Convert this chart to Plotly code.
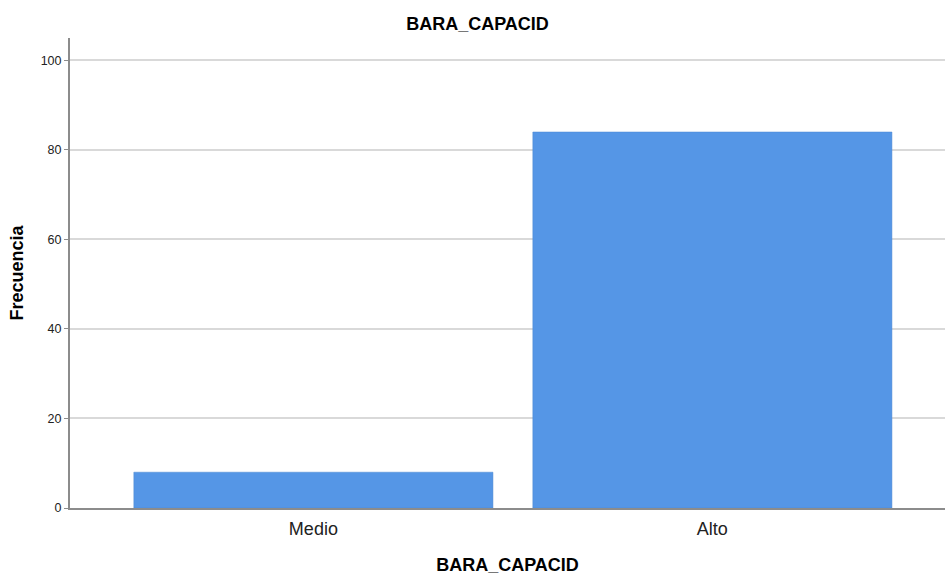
import plotly.graph_objects as go

categories = ["Medio", "Alto"]
frecuencia = [8, 84]
y_ticks = [0, 20, 40, 60, 80, 100]

fig = go.Figure(go.Bar(
    x=categories, y=frecuencia,
    marker=dict(color="#5596e6", line=dict(color="#4a86d0", width=0.5)),
    hoverinfo="skip",
))

fig.update_layout(
    width=945, height=577,
    margin=dict(l=70, r=0, t=38, b=69),
    paper_bgcolor="white", plot_bgcolor="white",
    font=dict(family="Liberation Sans, Arial, sans-serif", color="#000000"),
    bargap=0.1,
    showlegend=False,
    title=dict(text="<b>BARA_CAPACID</b>", x=477.5 / 945, xref="container", xanchor="center",
               y=1 - 24 / 577, yref="container", yanchor="middle",
               font=dict(size=18, color="#000000")),
)

fig.update_xaxes(
    type="category", range=[-0.61, 1.583],
    showline=True, linecolor="#8c8c8c", linewidth=2,
    showgrid=False, ticks="", ticklabelstandoff=3,
    tickfont=dict(size=18, color="#222222"),
    title=dict(text="<b>BARA_CAPACID</b>", font=dict(size=18, color="#000000"), standoff=21),
)
fig.update_yaxes(
    range=[0, 105], tickvals=y_ticks,
    showline=True, linecolor="#8c8c8c", linewidth=2,
    showgrid=True, gridcolor="#d9d9d9", gridwidth=2,
    ticks="outside", ticklen=4, tickcolor="#8c8c8c",
    tickfont=dict(size=12.5, color="#222222"),
    zeroline=False,
    title=dict(text="<b>Frecuencia</b>", font=dict(size=18, color="#000000"), standoff=12),
)

fig.write_html("out.html", config={"displayModeBar": False},
               post_script="document.body.style.margin='0';")
